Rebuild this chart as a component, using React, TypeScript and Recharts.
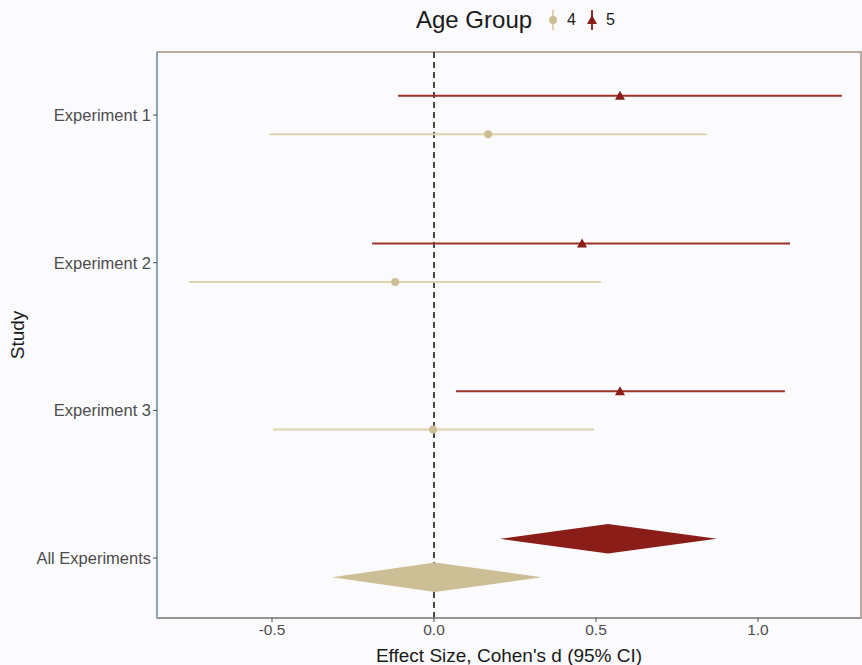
import React from 'react'
import {
  ComposedChart,
  Scatter,
  XAxis,
  YAxis,
  ReferenceLine,
  ReferenceArea,
  Label,
} from 'recharts'

// Studies, top to bottom
const studies = ['Experiment 1', 'Experiment 2', 'Experiment 3', 'All Experiments']

// Age group 4 (per experiment)
const age4Est = [0.167, -0.12, -0.003]
const age4Lo = [-0.509, -0.756, -0.497]
const age4Hi = [0.843, 0.515, 0.494]

// Age group 5 (per experiment)
const age5Est = [0.574, 0.457, 0.574]
const age5Lo = [-0.111, -0.191, 0.068]
const age5Hi = [1.259, 1.099, 1.083]

// Pooled estimates (All Experiments)
const pooledEst = { age4: 0.003, age5: 0.537 }
const pooledLo = { age4: -0.315, age5: 0.204 }
const pooledHi = { age4: 0.333, age5: 0.873 }

const xTicks = [-0.5, 0, 0.5, 1.0]
const xDomain = [-0.855, 1.318]
const yDomain = [0.573, 4.406]

const DODGE = 0.13
const DIAMOND_H = 0.1

const TAN = '#CDBF95'
const TAN_LINE = '#DFD2AC'
const RED = '#8A1D17'
const RED_LINE = '#9F3129'
const TEXT = '#4D4D4D'
const FONT = "'Liberation Sans', Arial, sans-serif"

const rowY = (i: number, age: 4 | 5) => i + 1 + (age === 5 ? -DODGE : DODGE)

const ciData = (lo: number[], hi: number[], age: 4 | 5) =>
  lo.flatMap((l, i) => [
    { x: l, y: rowY(i, age) },
    { x: hi[i], y: rowY(i, age) },
  ])

const estData = (est: number[], age: 4 | 5) => est.map((e, i) => ({ x: e, y: rowY(i, age) }))

const diamondData = (age: 'age4' | 'age5') => {
  const y = rowY(3, age === 'age4' ? 4 : 5)
  return [
    { x: pooledLo[age], y },
    { x: pooledEst[age], y: y - DIAMOND_H },
    { x: pooledHi[age], y },
    { x: pooledEst[age], y: y + DIAMOND_H },
  ]
}

const segments = (color: string) => (props: any) => {
  const pts = props.points || []
  const out = []
  for (let i = 0; i + 1 < pts.length; i += 2) {
    out.push(
      <line
        key={i}
        x1={pts[i].x}
        y1={pts[i].y}
        x2={pts[i + 1].x}
        y2={pts[i + 1].y}
        stroke={color}
        strokeWidth={2}
      />
    )
  }
  return <g>{out}</g>
}

const polygon = (color: string) => (props: any) => {
  const pts = props.points || []
  return <polygon points={pts.map((p: any) => `${p.x},${p.y}`).join(' ')} fill={color} />
}

const hidden = () => <g />

const circle = (props: any) => <circle cx={props.cx} cy={props.cy} r={4} fill={TAN} />

const triangle = (props: any) => (
  <polygon
    points={`${props.cx},${props.cy - 5} ${props.cx - 5},${props.cy + 4} ${props.cx + 5},${props.cy + 4}`}
    fill={RED}
  />
)

export default function App() {
  return (
    <div
      style={{
        position: 'absolute',
        left: 0,
        top: 0,
        width: 862,
        height: 665,
        background: '#FBFBFD',
        fontFamily: FONT,
      }}
    >
      <div
        style={{
          position: 'absolute',
          left: 416,
          top: 4,
          display: 'flex',
          alignItems: 'center',
          color: '#1A1A1A',
          height: 32,
        }}
      >
        <span style={{ fontSize: 24 }}>Age Group</span>
        <svg width={22} height={24} style={{ marginLeft: 10 }}>
          <line x1={11} y1={2} x2={11} y2={22} stroke={TAN_LINE} strokeWidth={2} />
          <circle cx={11} cy={12} r={4} fill={TAN} />
        </svg>
        <span style={{ fontSize: 16, marginLeft: 3 }}>4</span>
        <svg width={22} height={24} style={{ marginLeft: 5 }}>
          <line x1={11} y1={2} x2={11} y2={22} stroke={RED_LINE} strokeWidth={2} />
          <polygon points="11,7 6,16 16,16" fill={RED} />
        </svg>
        <span style={{ fontSize: 16, marginLeft: 3 }}>5</span>
      </div>
      <ComposedChart
        width={862}
        height={665}
        margin={{ top: 52, right: 1, bottom: 0, left: 0 }}
        style={{ position: 'absolute', left: 0, top: 0 }}
      >
        <XAxis
          type="number"
          dataKey="x"
          domain={xDomain}
          allowDataOverflow
          ticks={xTicks}
          tickFormatter={(v: number) => v.toFixed(1)}
          tick={{ fill: TEXT, fontSize: 15.5, fontFamily: FONT }}
          tickSize={4}
          axisLine={{ stroke: '#8C8C8C', strokeWidth: 1.5 }}
          tickLine={{ stroke: '#4D4D4D' }}
          height={47}
        >
          <Label
            value="Effect Size, Cohen's d (95% CI)"
            position="insideBottom"
            offset={3}
            style={{ fill: '#1A1A1A', fontSize: 19, fontFamily: FONT }}
          />
        </XAxis>
        <YAxis
          type="number"
          dataKey="y"
          domain={yDomain}
          allowDataOverflow
          reversed
          ticks={[1, 2, 3, 4]}
          tickFormatter={(v: number) => studies[v - 1]}
          tick={{ fill: TEXT, fontSize: 16.5, fontFamily: FONT }}
          tickSize={4}
          axisLine={{ stroke: '#78A7BA', strokeWidth: 1.5 }}
          tickLine={{ stroke: '#4D4D4D' }}
          width={157}
        >
          <Label
            content={({ viewBox }: any) => {
              const cy = viewBox.y + viewBox.height / 2
              return (
                <text
                  x={24}
                  y={cy}
                  transform={`rotate(-90, 24, ${cy})`}
                  textAnchor="middle"
                  fill="#1A1A1A"
                  fontSize={19}
                  fontFamily={FONT}
                >
                  Study
                </text>
              )
            }}
          />
        </YAxis>
        <ReferenceArea
          x1={xDomain[0]}
          x2={xDomain[1]}
          y1={yDomain[0]}
          y2={yDomain[1]}
          fill="none"
          stroke="#A39482"
          strokeWidth={1.5}
          ifOverflow="visible"
        />
        <ReferenceLine x={0} stroke="#111" strokeWidth={1.5} strokeDasharray="6 4" />
        <Scatter
          data={ciData(age5Lo, age5Hi, 5)}
          shape={hidden}
          line={segments(RED_LINE)}
          isAnimationActive={false}
        />
        <Scatter
          data={ciData(age4Lo, age4Hi, 4)}
          shape={hidden}
          line={segments(TAN_LINE)}
          isAnimationActive={false}
        />
        <Scatter data={estData(age5Est, 5)} shape={triangle} isAnimationActive={false} />
        <Scatter data={estData(age4Est, 4)} shape={circle} isAnimationActive={false} />
        <Scatter
          data={diamondData('age5')}
          shape={hidden}
          line={polygon(RED)}
          isAnimationActive={false}
        />
        <Scatter
          data={diamondData('age4')}
          shape={hidden}
          line={polygon(TAN)}
          isAnimationActive={false}
        />
      </ComposedChart>
    </div>
  )
}
